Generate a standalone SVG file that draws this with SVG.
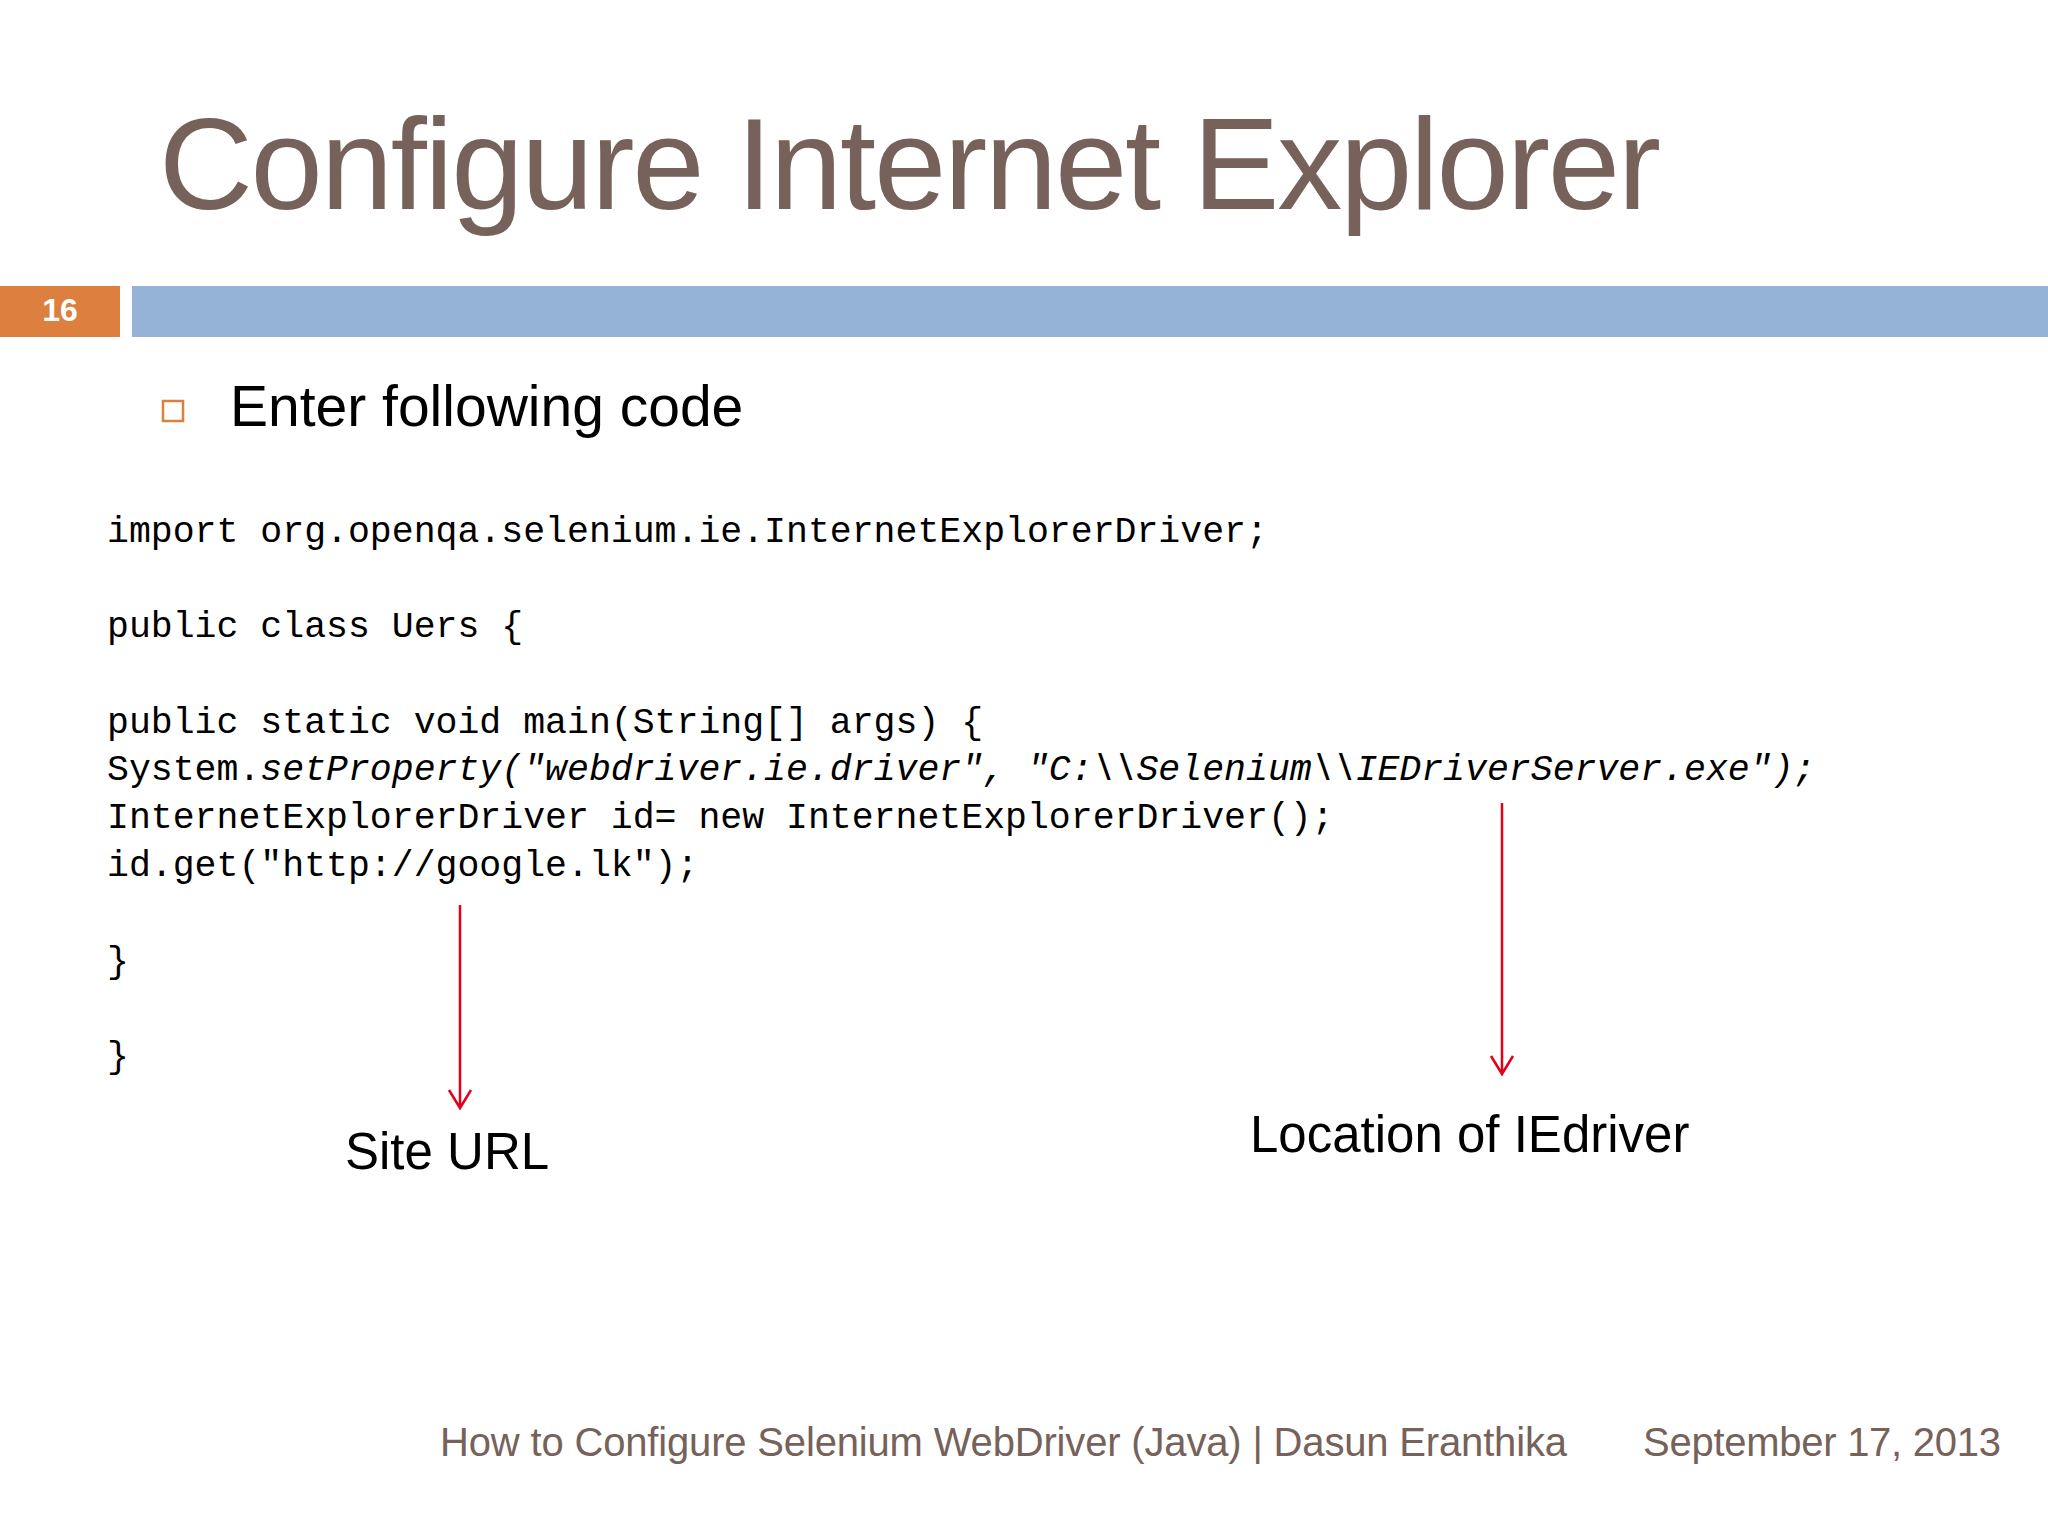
<svg xmlns="http://www.w3.org/2000/svg" width="2048" height="1536" viewBox="0 0 2048 1536">
<style>
.code{font-family:"Liberation Mono","DejaVu Sans Mono",monospace;font-size:36.5px;fill:#000}
.sans{font-family:"Liberation Sans",Arial,sans-serif}
.arr{stroke:#E3001B;stroke-width:2.5;fill:none}
</style>
<rect width="2048" height="1536" fill="#fff"/>
<text class="sans" x="159" y="209" font-size="130" fill="#76625A" textLength="1502">Configure Internet Explorer</text>
<rect x="0" y="286" width="120" height="51" fill="#DD7F3E"/>
<text class="sans" x="60" y="321" font-size="32" font-weight="bold" fill="#fff" text-anchor="middle">16</text>
<rect x="132" y="286" width="1916" height="51" fill="#95B3D7"/>
<rect x="163" y="401" width="20" height="20" fill="none" stroke="#DD7F3E" stroke-width="2.5"/>
<text class="sans" x="230" y="426" font-size="57" fill="#000">Enter following code</text>
<g id="code">
<text class="code" x="107" y="542">import org.openqa.selenium.ie.InternetExplorerDriver;</text>
<text class="code" x="107" y="637">public class Uers {</text>
<text class="code" x="107" y="733">public static void main(String[] args) {</text>
<text class="code" x="107" y="780">System.<tspan font-style="italic">setProperty("webdriver.ie.driver", "C:\\Selenium\\IEDriverServer.exe");</tspan></text>
<text class="code" x="107" y="828">InternetExplorerDriver id= new InternetExplorerDriver();</text>
<text class="code" x="107" y="876">id.get("http://google.lk");</text>
<text class="code" x="107" y="972">}</text>
<text class="code" x="107" y="1067">}</text>
</g>
<g id="connectors">
<path class="arr" d="M460 905V1106M449 1090L460 1108L471 1090"/>
<path class="arr" d="M1502 803V1072M1491 1056L1502 1074L1513 1056"/>
</g>
<g id="site"><text class="sans" x="345" y="1169" font-size="51" fill="#000">Site URL</text></g>
<g id="loc"><text class="sans" x="1250" y="1152" font-size="51" fill="#000">Location of IEdriver</text></g>
<text class="sans" x="440" y="1456" font-size="40" fill="#76625A" textLength="1127">How to Configure Selenium WebDriver (Java) | Dasun Eranthika</text>
<text class="sans" x="1643" y="1456" font-size="40" fill="#76625A" textLength="358">September 17, 2013</text>
</svg>
